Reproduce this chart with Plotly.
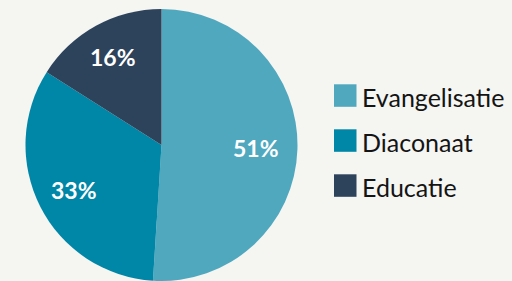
import math
import plotly.graph_objects as go

categories = ["Evangelisatie", "Diaconaat", "Educatie"]
values = [51, 33, 16]
colors = ["#50A8BF", "#0086A6", "#2D435C"]

W, H = 512, 281
bg = "#F5F5F2"

# pie geometry (pixels)
top_px = 9
dom_x = [0, 323 / W]
dom_y = [0, 1 - top_px / H]

fig = go.Figure()
fig.add_trace(go.Pie(
    labels=categories,
    values=values,
    marker=dict(colors=colors, line=dict(width=0)),
    sort=False,
    direction="clockwise",
    rotation=0,
    textinfo="none",
    domain=dict(x=dom_x, y=dom_y),
    showlegend=False,
    hoverinfo="label+percent",
))

# percent labels placed at each slice's mid-angle (derived from the values)
cx = (dom_x[0] + dom_x[1]) / 2 * W
r = min((dom_x[1] - dom_x[0]) * W, (dom_y[1] - dom_y[0]) * H) / 2
cy = top_px + r
total = sum(values)
annotations, shapes = [], []
cum = 0
for v in values:
    mid = (cum + v / 2) / total * 2 * math.pi
    cum += v
    rf = 0.70 + 0.25 * (0.5 - v / total) * 0.5
    px = cx + r * rf * math.sin(mid)
    py = cy - r * rf * math.cos(mid)
    annotations.append(dict(
        text=f"{round(v / total * 100)}%", xref="paper", yref="paper",
        x=px / W, y=1 - py / H, xanchor="center", yanchor="middle",
        showarrow=False,
        font=dict(family="Lato", size=23, color="white", weight="bold"),
    ))

# legend drawn as shapes + annotations
leg_x0, leg_top, sq, gap = 334, 84.3, 22.5, 45
for i, (cat, col) in enumerate(zip(categories, colors)):
    y0 = leg_top + i * gap
    shapes.append(dict(
        type="rect", xref="paper", yref="paper",
        x0=leg_x0 / W, x1=(leg_x0 + sq) / W,
        y0=1 - (y0 + sq) / H, y1=1 - y0 / H,
        fillcolor=col, line=dict(width=0),
    ))
    annotations.append(dict(
        text=cat, xref="paper", yref="paper",
        x=(leg_x0 + sq + 3) / W, y=1 - (y0 + sq / 2 + 1) / H,
        xanchor="left", yanchor="middle", showarrow=False,
        font=dict(family="Lato", size=25, color="#141414"),
    ))

fig.update_layout(
    width=W, height=H,
    margin=dict(l=0, r=0, t=0, b=0),
    paper_bgcolor=bg, plot_bgcolor=bg,
    shapes=shapes, annotations=annotations,
)

fig.write_html(
    "out.html",
    config={"displayModeBar": False},
    post_script="document.body.style.margin='0';document.body.style.overflow='hidden';"
                "document.documentElement.style.background='%s';" % bg,
)
